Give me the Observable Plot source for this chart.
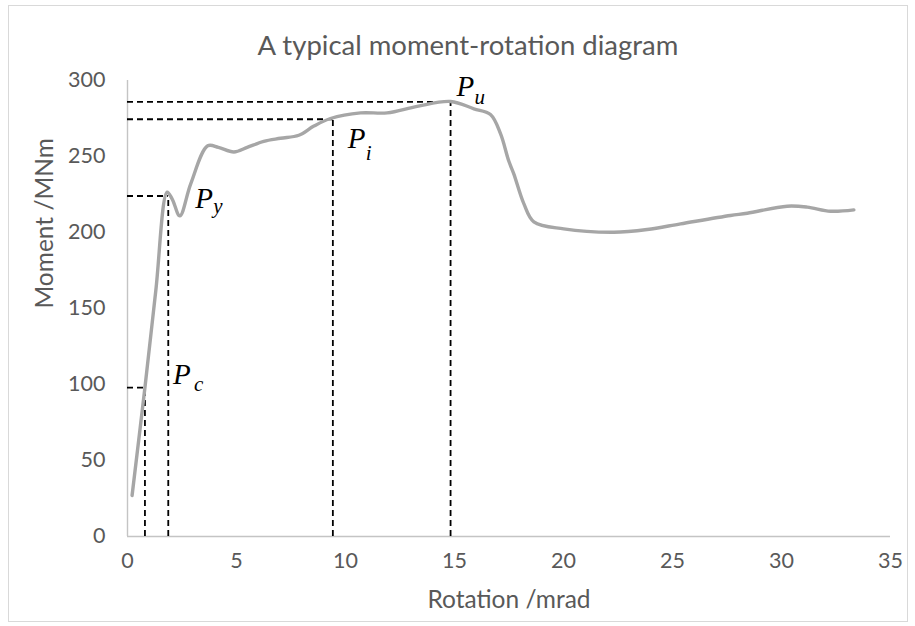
<!DOCTYPE html>
<html><head><meta charset="utf-8">
<script src="https://cdn.jsdelivr.net/npm/d3@7"></script>
<script src="https://cdn.jsdelivr.net/npm/@observablehq/plot@0.6"></script>
<style>
body{margin:0;background:#fff;}
#wrap{position:relative;width:915px;height:626px;}
#wrap svg{position:absolute;left:0;top:0;}
#border{position:absolute;left:8px;top:5px;width:900px;height:617px;border:1px solid #d9d9d9;box-sizing:border-box;}
</style></head><body><div id="wrap"><div id="border"></div></div>
<script>
const rotation = [0.21, 0.8, 1.3, 1.82, 2.05, 2.40, 2.9, 3.68, 4.17, 4.88, 5.49, 6.25, 7.02, 7.86, 8.55, 9.31, 10.69, 11.91, 13.29, 14.82, 15.89, 16.65, 17.11, 17.49, 17.72, 18.18, 18.64, 20.01, 22.31, 23.84, 25.37, 27.66, 28.43, 30.26, 31.18, 32.25, 33.32];
const moment = [27, 98, 162, 226.5, 222, 211, 232, 257, 256, 253, 256, 260, 262, 264, 270, 275, 278.7, 278.7, 283, 286.2, 281.4, 277.6, 265, 247, 238.6, 219, 207, 202.4, 200.2, 202, 205.7, 211.2, 212.7, 217.3, 216.7, 214, 214.9];
const keyNames = ["c", "y", "i", "u"];
const keyRotation = [0.8, 1.87, 9.42, 14.82];
const keyMoment = [98, 224, 274.5, 286];
const xTicks = [0, 5, 10, 15, 20, 25, 30, 35];
const yTicks = [0, 50, 100, 150, 200, 250, 300];
const titleText = "A typical moment-rotation diagram";
const xLabel = "Rotation /mrad";
const yLabel = "Moment /MNm";

const curve = rotation.map((r, i) => ({r, m: moment[i]}));
const keys = keyNames.map((n, i) => ({n, r: keyRotation[i], m: keyMoment[i]}));

// label offsets (px) for "P" and its subscript, per key point
const labelStyle = {
  c: {dx: 28, dy: -4, sdx: 21, sdy: 7},
  y: {dx: 27, dy: 12, sdx: 18, sdy: 5},
  i: {dx: 15, dy: 29, sdx: 18, sdy: 12},
  u: {dx: 6, dy: -6, sdx: 18, sdy: 8}
};

const gray = "#595959";
const labelMarks = [];
for (const k of keys) {
  const s = labelStyle[k.n];
  labelMarks.push(Plot.text([k], {x: "r", y: "m", text: () => "P", dx: s.dx, dy: s.dy,
    textAnchor: "start", lineAnchor: "bottom", fontFamily: "Liberation Serif", fontStyle: "italic", fontSize: 29, fill: "#000"}));
  labelMarks.push(Plot.text([k], {x: "r", y: "m", text: "n", dx: s.dx + s.sdx, dy: s.dy + s.sdy,
    textAnchor: "start", lineAnchor: "bottom", fontFamily: "Liberation Serif", fontStyle: "italic", fontSize: 21, fill: "#000"}));
}

const chart = Plot.plot({
  width: 915,
  height: 626,
  marginLeft: 127,
  marginRight: 25,
  marginTop: 80,
  marginBottom: 90,
  style: {fontFamily: "Lato, sans-serif", background: "transparent", overflow: "visible"},
  x: {domain: [0, 35], ticks: xTicks},
  y: {domain: [0, 300], ticks: yTicks},
  marks: [
    Plot.axisX({ticks: xTicks, tickSize: 0, tickPadding: 16, label: null, fontSize: 21.5, fill: gray}),
    Plot.axisY({ticks: yTicks, tickSize: 0, tickPadding: 22, label: null, fontSize: 21.5, fill: gray}),
    Plot.ruleX([0], {stroke: "#c4c4c4", strokeWidth: 1.4}),
    Plot.ruleY([0], {stroke: "#c4c4c4", strokeWidth: 1.4}),
    Plot.ruleX(keys, {x: "r", y1: 0, y2: "m", stroke: "#000", strokeWidth: 1.8, strokeDasharray: "6,4"}),
    Plot.ruleY(keys, {y: "m", x1: 0, x2: "r", stroke: "#000", strokeWidth: 1.8, strokeDasharray: "6,4"}),
    Plot.line(curve, {x: "r", y: "m", curve: "catmull-rom", stroke: "#a6a6a6", strokeWidth: 3.4, strokeLinecap: "round"}),
    ...labelMarks,
    Plot.text([titleText], {frameAnchor: "top", dx: -41, dy: -26, lineAnchor: "bottom", fontSize: 27.5, fill: gray, text: d => d}),
    Plot.text([xLabel], {frameAnchor: "bottom", dy: 71, fontSize: 24.5, fill: gray, text: d => d}),
    Plot.text([yLabel], {frameAnchor: "left", dx: -82, rotate: -90, fontSize: 24.5, fill: gray, text: d => d})
  ]
});
document.getElementById("wrap").appendChild(chart);
</script>
</body></html>
